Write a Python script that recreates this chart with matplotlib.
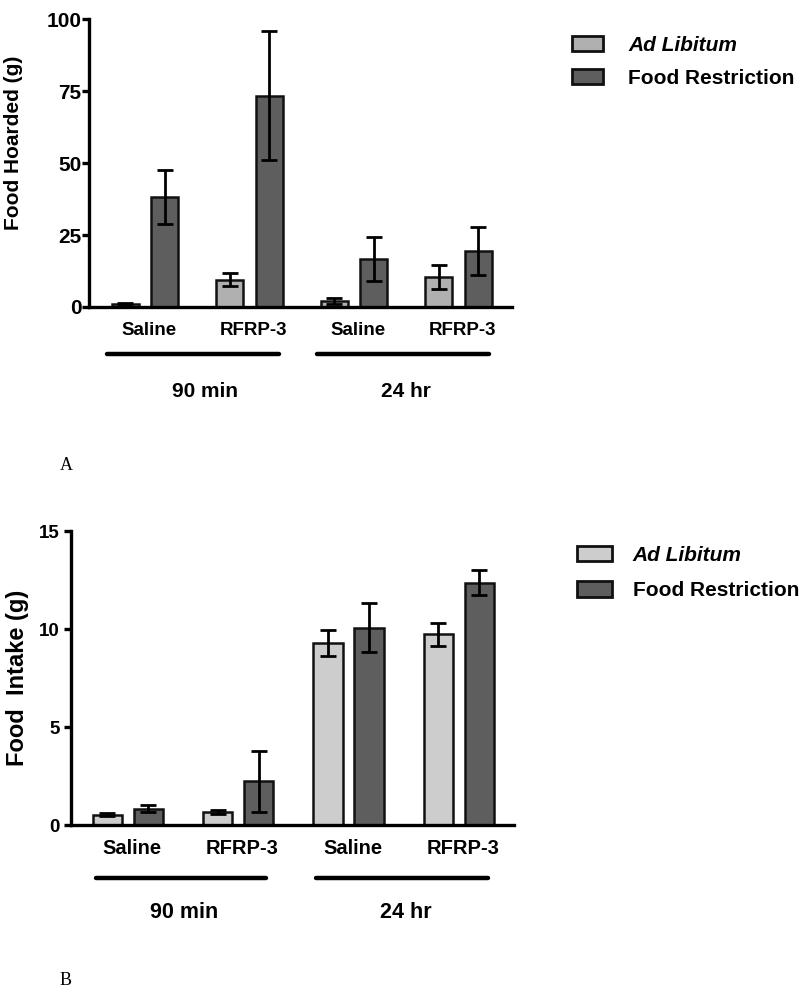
import numpy as np
import matplotlib.pyplot as plt
from matplotlib.lines import Line2D

plt.rcParams['font.family'] = ['Liberation Sans', 'DejaVu Sans']
plt.rcParams['font.weight'] = 'bold'

# 数据
treatments = ['Saline', 'RFRP-3', 'Saline', 'RFRP-3']
periods = ['90 min', '24 hr']
series = ['Ad Libitum', 'Food Restriction']

hoard_al = [1.0, 9.5, 2.0, 10.3]
hoard_al_err = [0.5, 2.2, 1.0, 4.2]
hoard_fr = [38.2, 73.5, 16.7, 19.5]
hoard_fr_err = [9.3, 22.5, 7.6, 8.3]

intake_al = [0.53, 0.68, 9.28, 9.73]
intake_al_err = [0.07, 0.1, 0.65, 0.6]
intake_fr = [0.82, 2.23, 10.07, 12.37]
intake_fr_err = [0.18, 1.55, 1.25, 0.65]

c_al_a = '#b0b0b0'
c_al_b = '#cdcdcd'
c_fr = '#5e5e5e'

W, H = 800, 988
fig = plt.figure(figsize=(W / 100, H / 100), dpi=100)


def px_axes(left, top, right, bottom):
    return fig.add_axes([left / W, 1 - bottom / H, (right - left) / W, (bottom - top) / H])


def draw_panel(ax, al, al_err, fr, fr_err, c_al, off, width, ymax, yticks, tfs, tpad,
               ylabel, ylfs, ylx, yly, cfs, gfs, ycat, ybr, ygrp, brs, grp_x):
    x = np.arange(len(treatments))
    ekw = dict(ecolor='black', elinewidth=2, capsize=5.5, capthick=2)
    b1 = ax.bar(x - off, al, width, color=c_al, edgecolor='#111111', linewidth=1.8,
                yerr=al_err, error_kw=ekw, label=series[0])
    b2 = ax.bar(x + off, fr, width, color=c_fr, edgecolor='#111111', linewidth=1.8,
                yerr=fr_err, error_kw=ekw, label=series[1])
    ax.set_ylim(0, ymax)
    ax.set_yticks(yticks)
    for s in ['top', 'right']:
        ax.spines[s].set_visible(False)
    for s in ['left', 'bottom']:
        ax.spines[s].set_linewidth(2.4)
    ax.tick_params(axis='y', direction='out', length=5, width=2.4, labelsize=tfs, pad=tpad)
    ax.tick_params(axis='x', length=0, labelbottom=False)
    ax.set_ylabel(ylabel, fontsize=ylfs, fontweight='bold')
    ax.yaxis.set_label_coords(ylx, yly)
    tr = ax.get_xaxis_transform()
    for xi, t in zip(x, treatments):
        ax.text(xi + 0.04, ycat, t, transform=tr, ha='center', va='center', fontsize=cfs)
    for (x0, x1), gx, p in zip(brs, grp_x, periods):
        ax.add_line(Line2D([x0, x1], [ybr, ybr], transform=tr, color='black', lw=3.2,
                           solid_capstyle='round', clip_on=False))
        ax.text(gx, ygrp, p, transform=tr, ha='center', va='center', fontsize=gfs)
    return b1, b2


# A
axA = px_axes(89, 19.5, 512, 307)
axA.set_xlim(-0.535, 3.51)
hA = draw_panel(axA, hoard_al, hoard_al_err, hoard_fr, hoard_fr_err, c_al_a,
                0.189, 0.258, 100, [0, 25, 50, 75, 100], 15, 0.5,
                'Food Hoarded (g)', 15, -0.155, 0.57, 13.5, 15,
                -0.082, -0.163, -0.294,
                [(-0.36, 1.28), (1.65, 3.29)], [0.57, 2.5])
fig.text(60 / W, 1 - 465 / H, 'A', fontsize=13, fontweight='normal',
         family=['Liberation Serif'], ha='left', va='center')
legA = fig.legend(handles=list(hA), labels=series, loc='upper left',
                  bbox_to_anchor=(572 / W, 1 - 36 / H), frameon=False, fontsize=15,
                  handlelength=1.5, handleheight=0.76, handletextpad=1.2,
                  labelspacing=0.66, borderpad=0, borderaxespad=0)

# B
axB = px_axes(71, 531, 514, 825)
axB.set_xlim(-0.514, 3.50)
hB = draw_panel(axB, intake_al, intake_al_err, intake_fr, intake_fr_err, c_al_b,
                0.186, 0.265, 15, [0, 5, 10, 15], 13.5, 3,
                'Food  Intake (g)', 17, -0.095, 0.50, 14.5, 15.5,
                -0.079, -0.179, -0.299,
                [(-0.29, 1.25), (1.71, 3.26)], [0.51, 2.52])
fig.text(60 / W, 1 - 980 / H, 'B', fontsize=13, fontweight='normal',
         family=['Liberation Serif'], ha='left', va='center')
legB = fig.legend(handles=list(hB), labels=series, loc='upper left',
                  bbox_to_anchor=(577 / W, 1 - 546 / H), frameon=False, fontsize=15,
                  handlelength=1.67, handleheight=0.76, handletextpad=1.0,
                  labelspacing=0.79, borderpad=0, borderaxespad=0)

for leg in (legA, legB):
    t = leg.get_texts()[0]
    t.set_style('italic')
    for h in leg.legend_handles:
        h.set_linewidth(2)

fig.savefig('out.png', dpi=100)
